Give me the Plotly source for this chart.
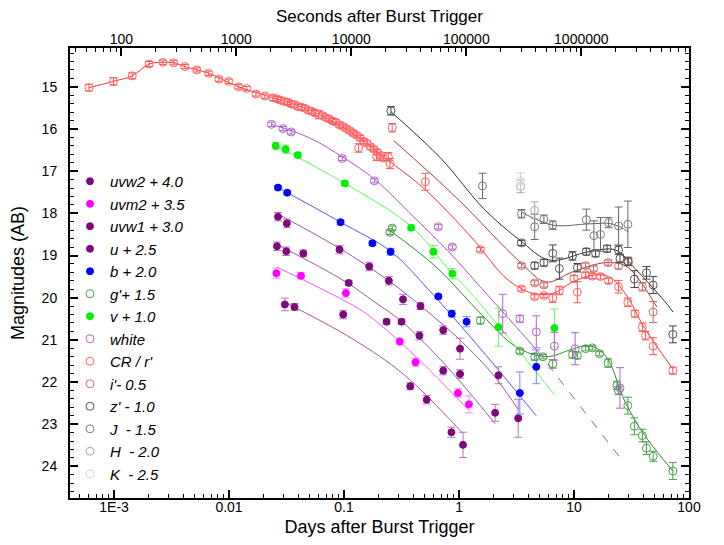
import plotly.graph_objects as go

# ---------------- data (days after trigger, AB magnitude, error) ----------------
uvw2_days = [0.0306, 0.03707, 0.0984, 0.3767, 0.5236, 0.859, 1.084]
uvw2_mag = [20.16, 20.22, 20.40, 22.10, 22.42, 23.19, 23.49]
uvw2_err = [0.15, 0.08, 0.1, 0.08, 0.1, 0.12, 0.3]
uvw2_fit_days = [0.0306, 0.1175, 0.3373, 1.072]
uvw2_fit_mag = [20.11, 20.97, 21.84, 23.21]

uvm2_days = [0.02582, 0.04227, 0.1038, 0.3055, 0.4188, 0.9795, 1.219]
uvm2_mag = [19.42, 19.48, 19.89, 21.04, 21.53, 22.26, 22.53]
uvm2_err = [0.12, 0.08, 0.1, 0.08, 0.1, 0.1, 0.2]
uvm2_fit_days = [0.02582, 0.134, 0.186, 0.411, 1.219]
uvm2_fit_mag = [19.27, 20.26, 20.54, 21.37, 22.67]

uvw1_days = [0.02612, 0.03148, 0.04426, 0.1099, 0.2344, 0.3162, 0.4529, 0.729, 1.021, 2.061]
uvw1_mag = [18.78, 18.90, 18.95, 19.65, 20.57, 20.57, 20.90, 21.73, 21.81, 22.73]
uvw1_err = [0.1, 0.1, 0.08, 0.06, 0.06, 0.06, 0.1, 0.1, 0.1, 0.2]
uvw1_fit_days = [0.02612, 0.1, 0.186, 0.3162, 0.794, 2.061]
uvw1_fit_mag = [18.74, 19.60, 20.11, 20.56, 21.65, 22.99]

u_days = [0.02667, 0.03184, 0.0914, 0.1656, 0.2455, 0.326, 0.462, 0.729, 1.021, 2.203, 3.27]
u_mag = [18.08, 18.24, 18.86, 19.26, 19.60, 20.04, 20.20, 20.77, 21.21, 21.84, 22.86]
u_err = [0.1, 0.1, 0.1, 0.1, 0.1, 0.12, 0.08, 0.1, 0.25, 0.2, 0.45]
u_fit_days = [0.02667, 0.0914, 0.2455, 0.501, 1.0, 2.0, 3.27]
u_fit_mag = [18.02, 18.83, 19.60, 20.27, 20.98, 21.84, 22.65]

b_days = [0.02667, 0.03206, 0.0933, 0.1766, 0.2541, 0.661, 0.865, 1.164, 3.38, 4.70]
b_mag = [17.39, 17.51, 18.21, 18.71, 18.91, 19.97, 20.38, 20.57, 22.26, 21.64]
b_err = [0.05, 0.05, 0.05, 0.05, 0.08, 0.05, 0.08, 0.12, 0.5, 0.4]
b_fit_days = [0.02667, 0.0933, 0.257, 0.535, 1.535, 4.70]
b_fit_mag = [17.39, 18.21, 18.91, 19.79, 21.21, 22.80]

g_days = [0.2512, 0.2624, 1.535, 3.38, 4.55, 5.37, 6.53, 9.70, 10.7, 12.6, 14.4, 16.7,
          19.8, 23.6, 24.4, 29.4, 33.5, 39.3, 42.7, 48.8, 72.4]
g_mag = [18.45, 18.35, 20.54, 21.27, 21.40, 21.40, 21.57, 21.35, 21.37, 21.21, 21.19, 21.33,
         21.55, 22.08, 22.20, 22.56, 23.05, 23.27, 23.57, 23.76, 24.11]
g_err = [0.05, 0.05, 0.08, 0.05, 0.08, 0.05, 0.1, 0.08, 0.08, 0.05, 0.05, 0.05,
         0.1, 0.1, 0.1, 0.2, 0.2, 0.15, 0.15, 0.12, 0.2]
g_fit_days = [0.2512, 0.631, 1.585, 3.16, 5.73, 9.70, 13.5, 18.75, 27.9, 41.3, 72.4]
g_fit_mag = [18.41, 19.27, 20.41, 21.17, 21.40, 21.22, 21.14, 21.37, 22.48, 23.27, 24.11]

v_days = [0.02547, 0.03105, 0.03963, 0.1016, 0.3837, 0.598, 0.875, 2.203, 6.76]
v_mag = [16.40, 16.48, 16.62, 17.29, 18.34, 18.91, 19.43, 20.70, 20.72]
v_err = [0.08, 0.1, 0.06, 0.06, 0.06, 0.15, 0.12, 0.45, 0.45]
v_fit_days = [0.0258, 0.1016, 0.3837, 0.847, 1.178, 2.203, 6.76]
v_fit_mag = [16.40, 17.29, 18.31, 19.39, 19.79, 20.66, 22.30]

white_days = [0.02339, 0.02944, 0.03467, 0.0964, 0.1837, 0.661, 0.875, 2.399, 3.38, 4.70,
              6.76, 10.23, 25.1]
white_mag = [15.89, 15.99, 16.07, 16.70, 17.23, 18.32, 18.80, 20.38, 20.50, 20.81,
             21.15, 21.21, 22.14]
white_err = [0.05, 0.05, 0.05, 0.05, 0.05, 0.05, 0.05, 0.46, 0.08, 0.38, 0.33, 0.38, 0.48]
white_fit_days = [0.02339, 0.0501, 0.1, 0.186, 0.398, 0.794, 1.585, 3.162, 4.70]
white_fit_mag = [15.89, 16.21, 16.69, 17.20, 18.07, 18.88, 19.79, 20.70, 21.23]
white_ext_days = [4.70, 25.1]
white_ext_mag = [21.23, 23.79]

r_days = [6.04e-4, 9.9e-4, 1.44e-3, 2.02e-3, 2.66e-3, 3.30e-3, 4.13e-3, 5.24e-3, 6.64e-3,
          8.15e-3, 9.93e-3, 0.0121, 0.01426, 0.01714, 0.0205, 0.0241,
          0.0263, 0.0282, 0.0302, 0.0324, 0.0347, 0.0372, 0.0398, 0.0427, 0.0457, 0.0490,
          0.0525, 0.0562, 0.0603, 0.0646, 0.0692, 0.0741, 0.0794, 0.0851, 0.0912, 0.0977,
          0.1047, 0.1122, 0.1202, 0.1288, 0.1380, 0.1479, 0.1585, 0.1698, 0.1820, 0.1950,
          0.2089, 0.2188, 0.134, 0.192, 0.2427, 0.251, 0.51, 1.535, 3.49, 4.55, 5.47,
          6.53, 7.46, 10.0, 10.7, 12.6, 14.4, 17.0, 20.0, 24.4, 29.4, 33.9, 39.3, 41.9,
          48.8, 72.4]
r_mag = [15.02, 14.87, 14.74, 14.46, 14.42, 14.43, 14.52, 14.60, 14.68,
         14.82, 14.87, 15.00, 15.04, 15.17, 15.22, 15.26,
         15.29, 15.32, 15.35, 15.36, 15.41, 15.42, 15.47, 15.48, 15.51, 15.56,
         15.58, 15.62, 15.66, 15.68, 15.73, 15.76, 15.81, 15.84, 15.90, 15.94,
         15.99, 16.04, 16.10, 16.15, 16.21, 16.29, 16.34, 16.42, 16.48, 16.55,
         16.63, 16.69, 16.45, 16.65, 16.66, 16.82, 17.25, 18.86, 19.79, 19.98, 19.95,
         20.01, 19.83, 19.55, 19.87, 19.46, 19.49, 19.50, 19.60, 19.74, 20.11, 20.38, 20.70, 20.90,
         21.15, 21.73]
r_err = [0.08, 0.09, 0.07, 0.06, 0.05, 0.05, 0.05, 0.05, 0.05,
         0.05, 0.05, 0.05, 0.05, 0.05, 0.05, 0.06,
         0.06, 0.06, 0.06, 0.06, 0.06, 0.06, 0.06, 0.06, 0.06, 0.06,
         0.06, 0.06, 0.1, 0.06, 0.06, 0.06, 0.06, 0.06, 0.06, 0.06,
         0.06, 0.06, 0.06, 0.06, 0.06, 0.06, 0.06, 0.06, 0.06, 0.06,
         0.06, 0.06, 0.1, 0.1, 0.1, 0.12, 0.2, 0.05, 0.05, 0.05, 0.05,
         0.1, 0.1, 0.08, 0.25, 0.06, 0.06, 0.06, 0.06, 0.15, 0.1, 0.08, 0.1, 0.1,
         0.2, 0.08]
r_fit_days = [6.04e-4, 9.9e-4, 1.44e-3, 2.02e-3, 2.66e-3, 3.3e-3, 4.13e-3, 6.64e-3, 0.0121,
              0.0241, 0.0457, 0.0912, 0.1585, 0.2089, 0.5, 1.343, 2.59, 4.40, 6.53, 9.70,
              14.4, 20.0, 27.9, 41.3, 72.4]
r_fit_mag = [15.02, 14.87, 14.74, 14.46, 14.42, 14.43, 14.52, 14.68, 15.00,
             15.26, 15.51, 15.90, 16.34, 16.61, 17.42, 18.63, 19.55, 19.90, 19.90, 19.63,
             19.47, 19.50, 19.90, 20.73, 21.69]

i_days = [0.2624, 3.49, 4.55, 5.47, 12.6, 14.8, 19.8, 24.4, 29.8, 39.3, 48.8]
i_mag = [15.97, 19.24, 19.65, 19.70, 19.24, 19.31, 19.17, 19.24, 19.15, 19.74, 20.34]
i_err = [0.1, 0.05, 0.05, 0.05, 0.06, 0.06, 0.06, 0.08, 0.08, 0.1, 0.25]
i_fit_days = [0.269, 0.966, 3.38, 5.73, 9.70, 18.75, 27.9, 36.3, 52.5]
i_fit_mag = [16.27, 17.65, 19.15, 19.63, 19.39, 19.17, 19.24, 19.55, 20.22]

z_days = [0.2559, 3.49, 4.55, 5.47, 6.53, 7.46, 9.70, 10.7, 12.8, 15.4, 19.4, 24.4, 25.1,
          29.4, 33.5, 42.7, 48.8, 72.4]
z_mag = [15.57, 18.70, 19.24, 19.17, 18.95, 19.31, 19.01, 19.29, 18.91, 18.95, 18.84, 18.87, 19.07,
         19.14, 19.56, 19.41, 19.70, 20.87]
z_err = [0.1, 0.06, 0.08, 0.08, 0.2, 0.25, 0.1, 0.1, 0.08, 0.08, 0.08, 0.1, 0.1,
         0.1, 0.2, 0.15, 0.2, 0.2]
z_fit_days = [0.2559, 0.697, 1.64, 3.39, 6.12, 13.5, 22.9, 34.0, 65.6, 72.4]
z_fit_mag = [15.59, 16.70, 17.89, 18.64, 19.11, 18.91, 18.87, 19.31, 20.18, 20.34]

J_days = [1.6, 3.49, 4.55, 5.47, 6.53, 12.8, 14.9, 17.0, 20.0, 24.4, 29.4]
J_mag = [17.35, 18.01, 18.32, 18.14, 18.28, 18.15, 18.53, 18.50, 18.22, 18.30, 18.26]
J_err = [0.3, 0.1, 0.3, 0.1, 0.1, 0.25, 0.35, 0.4, 0.12, 0.45, 0.55]
J_fit_days = [3.49, 6.53, 13.5, 21.4, 29.8]
J_fit_mag = [17.97, 18.28, 18.25, 18.25, 18.44]

H_days = [3.43, 4.55]
H_mag = [17.36, 17.93]
H_err = [0.15, 0.2]

K_days = [3.43]
K_mag = [17.24]
K_err = [0.2]

legend_names = ["uvw2 + 4.0", "uvm2 + 3.5", "uvw1 + 3.0", "u + 2.5", "b + 2.0", "g'+ 1.5",
                "v + 1.0", "white", "CR / r'", "i'- 0.5", "z' - 1.0", "J  - 1.5", "H  - 2.0",
                "K  - 2.5"]

bottom_tickvals = [0.001, 0.01, 0.1, 1, 10, 100]
bottom_ticktext = ["1E-3", "0.01", "0.1", "1", "10", "100"]
top_tickvals = [100, 1000, 10000, 100000, 1000000]
top_ticktext = ["100", "1000", "10000", "100000", "1000000"]
mag_ticks = [15, 16, 17, 18, 19, 20, 21, 22, 23, 24]

# ---------------- styling ----------------
FONT = "Arial, Liberation Sans, sans-serif"
series = [
    (uvw2_days, uvw2_mag, uvw2_err, "#7d0a7d", "#b777b7", True,
     [(uvw2_fit_days, uvw2_fit_mag, "#a155a1", "solid")]),
    (uvm2_days, uvm2_mag, uvm2_err, "#ff00ff", "#ff88ff", True,
     [(uvm2_fit_days, uvm2_fit_mag, "#ff55ff", "solid")]),
    (uvw1_days, uvw1_mag, uvw1_err, "#7d0a7d", "#b777b7", True,
     [(uvw1_fit_days, uvw1_fit_mag, "#a155a1", "solid")]),
    (u_days, u_mag, u_err, "#7d0a7d", "#b777b7", True,
     [(u_fit_days, u_fit_mag, "#a155a1", "solid")]),
    (b_days, b_mag, b_err, "#0000ff", "#7f7fff", True,
     [(b_fit_days, b_fit_mag, "#5555ff", "solid")]),
    (g_days, g_mag, g_err, "#4ca04c", "#4ca04c", False,
     [(g_fit_days, g_fit_mag, "#2e8b2e", "solid")]),
    (v_days, v_mag, v_err, "#00ee00", "#66ff66", True,
     [(v_fit_days, v_fit_mag, "#55ff55", "solid")]),
    (white_days, white_mag, white_err, "#b266cc", "#b266cc", False,
     [(white_fit_days, white_fit_mag, "#aa55bb", "solid"),
      (white_ext_days, white_ext_mag, "#aa55bb", "dash")]),
    (r_days, r_mag, r_err, "#ff6666", "#ff5555", False,
     [(r_fit_days, r_fit_mag, "#ff3333", "solid")]),
    (i_days, i_mag, i_err, "#cc7070", "#cc6666", False,
     [(i_fit_days, i_fit_mag, "#a83c3c", "solid")]),
    (z_days, z_mag, z_err, "#555555", "#444444", False,
     [(z_fit_days, z_fit_mag, "#333333", "solid")]),
    (J_days, J_mag, J_err, "#7a7a7a", "#6a6a6a", False,
     [(J_fit_days, J_fit_mag, "#666666", "solid")]),
    (H_days, H_mag, H_err, "#aaaaaa", "#aaaaaa", False, []),
    (K_days, K_mag, K_err, "#d5d5d5", "#cccccc", False, []),
]

fig = go.Figure()

for s in series:
    for fd, fm, fc, dash in s[6]:
        fig.add_trace(go.Scatter(x=fd, y=fm, mode="lines", showlegend=False,
                                 hoverinfo="skip",
                                 line=dict(color=fc, width=1, dash=dash, shape="spline",
                                           smoothing=1.0)))

for name, s in zip(legend_names, series):
    days, mag, err, mc, bc, filled, _ = s
    if filled:
        marker = dict(size=7, color=mc, symbol="circle", line=dict(color=mc, width=1))
    else:
        marker = dict(size=8, color=mc, symbol="circle-open", line=dict(width=1))
    fig.add_trace(go.Scatter(
        x=days, y=mag, mode="markers", name="<i>" + name + "</i>",
        marker=marker,
        error_y=dict(type="data", array=err, visible=True, color=bc, thickness=1, width=4)))

fig.add_trace(go.Scatter(x=[None], y=[None], xaxis="x2", showlegend=False, hoverinfo="skip"))

x_lo, x_hi = -3.383, 2.0
sec_shift = 4.936514  # log10(86400)

bottom_minor = [m * 10 ** e for e in range(-4, 2) for m in range(2, 10)]
top_minor = [m * 10 ** e for e in range(1, 7) for m in range(2, 10)]
mag_minor = [round(14.2 + 0.2 * k, 1) for k in range(53)]

fig.update_layout(
    width=724, height=545,
    margin=dict(l=62, r=43, t=40, b=55),
    paper_bgcolor="white", plot_bgcolor="white",
    font=dict(family=FONT, size=14, color="black"),
    showlegend=True,
    legend=dict(x=0.0, y=0.74, xanchor="left", yanchor="top",
                bgcolor="rgba(0,0,0,0)", font=dict(family=FONT, size=15),
                tracegroupgap=0, itemsizing="trace"),
    xaxis=dict(type="log", range=[x_lo, x_hi], showgrid=False, zeroline=False,
               automargin=False,
               showline=True, linecolor="black", linewidth=2, mirror=False,
               ticks="inside", ticklen=8, tickwidth=1.5, tickcolor="black",
               tickmode="array", tickvals=bottom_tickvals, ticktext=bottom_ticktext,
               ticklabelstandoff=-5,
               minor=dict(ticks="inside", ticklen=4, tickwidth=1, tickcolor="black",
                          tickmode="array", tickvals=bottom_minor, showgrid=False),
               title=dict(text="Days after Burst Trigger", font=dict(size=18), standoff=7)),
    xaxis2=dict(type="log", overlaying="x", side="top", anchor="y",
                automargin=False,
                range=[x_lo + sec_shift, x_hi + sec_shift], showgrid=False, zeroline=False,
                showline=True, linecolor="black", linewidth=2,
                ticks="inside", ticklen=8, tickwidth=1.5, tickcolor="black",
                tickmode="array", tickvals=top_tickvals, ticktext=top_ticktext,
                ticklabelstandoff=-4,
                minor=dict(ticks="inside", ticklen=4, tickwidth=1, tickcolor="black",
                           tickmode="array", tickvals=top_minor, showgrid=False)),
    yaxis=dict(range=[24.75, 14.08], showgrid=False, zeroline=False,
               automargin=False,
               showline=True, linecolor="black", linewidth=2, mirror="ticks",
               ticks="inside", ticklen=8, tickwidth=1.5, tickcolor="black",
               tickmode="array", tickvals=mag_ticks, ticklabelstandoff=8,
               minor=dict(ticks="inside", ticklen=4, tickwidth=1, tickcolor="black",
                          tickmode="array", tickvals=mag_minor, showgrid=False),
               title=dict(text="Magnitudes (AB)", font=dict(size=18), standoff=13)),
    annotations=[dict(text="Seconds after Burst Trigger", xref="paper", yref="paper",
                      x=0.5, y=1.0 + 31.0 / 450.0, xanchor="center", yanchor="middle",
                      showarrow=False, font=dict(family=FONT, size=17, color="black"))],
)

fig.write_html("out.html")
